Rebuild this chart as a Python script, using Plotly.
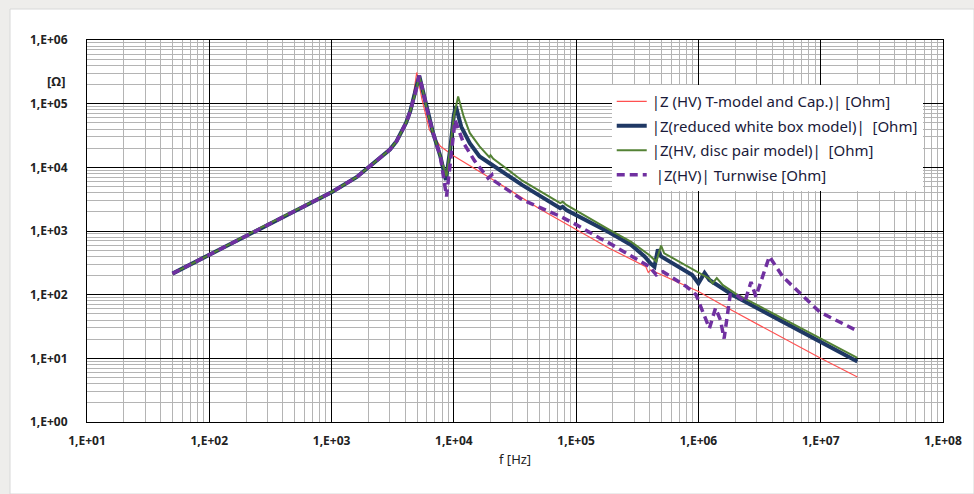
import plotly.graph_objects as go

# ---------------- data ----------------
# shared low-frequency branch (Hz, Ohm) up to the first resonance
f_low = [50, 100, 250, 760, 1000, 1600, 2000, 2500, 3000, 3400, 3700, 4070, 4400,
         4680, 5000, 5120, 5210]
z_low = [214, 422, 1070, 3090, 4070, 7000, 10000, 14000, 19000, 25700, 35000, 50100,
         76000, 115000, 186000, 240000, 275000]

# |Z (HV) T-model and Cap.)|
f_red = [50, 100, 250, 760, 1000, 1600, 2000, 2500, 3000, 3400, 3700, 4070, 4400,
         4680, 4970,
         5500, 6310, 7760, 10000, 19950, 50100, 100000, 186200,
         371500, 389000, 407400, 1000000, 1778000, 10000000, 19950000]
z_red = [214, 422, 1070, 3090, 4070, 7000, 10000, 14000, 19000, 25700, 35500, 52000,
         82000, 141000, 309000,
         115000, 38900, 21400, 15100, 6760, 2240, 1070, 537,
         275, 224, 245, 112, 60, 10, 5.1]

# |Z(reduced white box model)|
f_blue = f_low + [5560, 6030, 6760, 7760, 8610, 9330, 10000, 10380, 11480, 13490,
                  16220, 19500, 36300, 74100, 77600, 83200, 100000, 186000,
                  282000, 363000, 407000, 437000, 466000, 495000, 891000,
                  1000000, 1122000, 1230000, 1905000, 9770000, 19950000]
z_blue = z_low + [166000, 81300, 34700, 14800, 6310, 19100, 66000, 91000, 43700, 24000,
                  14800, 11700, 5250, 2290, 2400, 2140, 1780, 955,
                  603, 398, 309, 275, 513, 398, 204,
                  151, 219, 170, 99, 18.2, 8.9]

# |Z(HV, disc pair model)|
f_green = f_low + [5560, 6030, 6760, 7760, 8710, 9330, 10000, 10840, 12020, 13490,
                   16220, 19500, 19950, 20900, 36300, 74100, 77600, 83200, 100000,
                   186000, 282000, 398000, 452000, 495000, 525000, 1000000,
                   1230000, 1303000, 1413000, 1585000, 2042000, 19950000]
z_green = z_low + [166000, 81300, 34700, 15500, 7240, 20000, 63000, 130000, 63100, 34700,
                   21400, 14500, 15500, 13800, 6170, 2750, 2880, 2570, 2090,
                   1050, 676, 417, 331, 589, 447, 224,
                   178, 151, 182, 141, 102, 10.2]

# |Z(HV)| Turnwise
f_purple = f_low + [5560, 6030, 6760, 7760, 8710, 9330, 10230, 12020, 14790, 19050,
                    20420, 20890, 36300, 74100, 100000, 154900, 186200, 398000,
                    452000, 513000, 794000, 955000, 1230000, 1380000, 1514000,
                    1622000, 1820000, 2042000, 2399000, 2692000, 2951000,
                    3802000, 4898000, 9772000, 19500000]
z_purple = z_low + [166000, 81300, 34700, 14800, 3470, 12000, 55000, 24000, 12600, 6760,
                    7590, 6310, 3090, 1700, 1260, 776, 646, 275,
                    204, 229, 135, 100, 29.5, 61.7, 39.8,
                    20.4, 100, 100, 77.6, 158, 93.3,
                    398, 191, 53.7, 27.5]

names = ["|Z (HV) T-model and Cap.)| [Ohm]",
         "|Z(reduced white box model)|  [Ohm]",
         "|Z(HV, disc pair model)|  [Ohm]",
         " |Z(HV)| Turnwise [Ohm]"]

x_tickvals = [1e1, 1e2, 1e3, 1e4, 1e5, 1e6, 1e7, 1e8]
x_ticktext = ["1,E+01", "1,E+02", "1,E+03", "1,E+04", "1,E+05", "1,E+06", "1,E+07", "1,E+08"]
y_tickvals = [1e0, 1e1, 1e2, 1e3, 1e4, 1e5, 1e6]
y_ticktext = ["1,E+00", "1,E+01", "1,E+02", "1,E+03", "1,E+04", "1,E+05", "1,E+06"]

x_minor = [k * 10 ** n for n in range(1, 8) for k in range(2, 10)]
y_minor = [k * 10 ** n for n in range(0, 6) for k in range(2, 10)]

# ---------------- figure ----------------
fig = go.Figure()
fig.add_trace(go.Scatter(x=f_red, y=z_red, mode="lines", name=names[0],
                         line=dict(color="#ff5050", width=1.2), legendgroup="a"))
fig.add_trace(go.Scatter(x=f_blue, y=z_blue, mode="lines", name=names[1],
                         line=dict(color="#1f3864", width=4), legendgroup="b"))
fig.add_trace(go.Scatter(x=f_green, y=z_green, mode="lines", name=names[2],
                         line=dict(color="#548235", width=2), legendgroup="c"))
fig.add_trace(go.Scatter(x=f_purple, y=z_purple, mode="lines", name=names[3],
                         line=dict(color="#7030a0", width=3.5, dash="8px,5px"),
                         legendgroup="d"))

font_fam = "Noto Sans, Open Sans, sans-serif"
axis_common = dict(
    type="log", showline=True, mirror=True, linecolor="black", linewidth=1,
    showgrid=True, gridcolor="#000000", gridwidth=1, zeroline=False,
    automargin=False,
    ticks="", tickfont=dict(family=font_fam, size=12, color="#222", weight="bold"),
)

fig.update_xaxes(**axis_common, range=[1, 8], tickmode="array",
                 tickvals=x_tickvals, ticktext=x_ticktext, ticklabelstandoff=8,
                 minor=dict(tickmode="array", tickvals=x_minor, showgrid=True,
                            gridcolor="#b4b4b4", gridwidth=1, ticks=""))
fig.update_yaxes(**axis_common, range=[0, 6], tickmode="array",
                 tickvals=y_tickvals, ticktext=y_ticktext, ticklabelstandoff=16,
                 minor=dict(tickmode="array", tickvals=y_minor, showgrid=True,
                            gridcolor="#b4b4b4", gridwidth=1, ticks=""))

fig.update_layout(
    width=974, height=494,
    margin=dict(l=87, r=31, t=40, b=72, autoexpand=False),
    paper_bgcolor="#eeedeb", plot_bgcolor="white",
    font=dict(family=font_fam, size=13, color="#222"),
    legend=dict(x=0.613, y=0.882, xanchor="left", yanchor="top",
                bgcolor="white", borderwidth=0, tracegroupgap=2,
                traceorder="grouped", itemwidth=30,
                font=dict(family=font_fam, size=15, color="#1a1a3a")),
    shapes=[dict(type="rect", xref="paper", yref="paper",
                 x0=(10 - 87) / 856, x1=(974 - 87) / 856,
                 y0=(422 - 494) / 382, y1=(422 - 9) / 382,
                 fillcolor="white", line=dict(color="#d8d8d8", width=1),
                 layer="below")],
    annotations=[
        dict(text="[Ω]", xref="paper", yref="paper", x=(45 - 87) / 856,
             y=(422 - 70) / 382, showarrow=False,
             font=dict(family=font_fam, size=13, color="#222", weight="bold")),
        dict(text="f [Hz]", xref="paper", yref="paper", x=0.5,
             y=(422 - 470) / 382, showarrow=False,
             font=dict(family=font_fam, size=13, color="#222")),
    ],
    showlegend=True,
)

fig.write_html("out.html", config={"displayModeBar": False},
               post_script="document.body.style.margin='0px';document.body.style.overflow='hidden';")
